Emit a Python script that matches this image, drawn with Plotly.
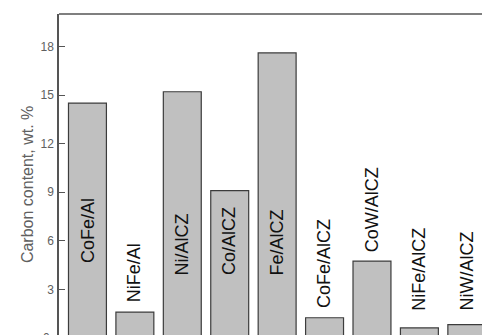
import plotly.graph_objects as go

# Catalyst samples and their carbon content (wt. %)
catalysts = ["CoFe/Al", "NiFe/Al", "Ni/AlCZ", "Co/AlCZ", "Fe/AlCZ",
             "CoFe/AlCZ", "CoW/AlCZ", "NiFe/AlCZ", "NiW/AlCZ"]
carbon = [14.5, 1.6, 15.2, 9.1, 17.6, 1.25, 4.75, 0.62, 0.82]
y_ticks = [3, 6, 9, 12, 15, 18]

# baseline (data units) of each rotated sample label
label_y = [4.5, 2.1, 3.75, 3.75, 3.75, 1.73, 5.2, 1.55, 1.6]

FONT = "Liberation Sans, Arial, sans-serif"
AXIS_GREY = "#555555"
TEXT_GREY = "#606060"

fig = go.Figure(go.Bar(
    x=catalysts,
    y=carbon,
    marker=dict(color="#c0c0c0", line=dict(color="#3c3c3c", width=1.2)),
    width=0.8,
    hoverinfo="x+y",
))

for name, yb in zip(catalysts, label_y):
    fig.add_annotation(
        x=name, y=yb, xref="x", yref="y",
        text=name, textangle=-90, showarrow=False,
        xanchor="center", yanchor="bottom",
        font=dict(family=FONT, size=18, color="#111111"),
    )

# zero label sits just below the visible frame
fig.add_annotation(
    x=0, y=0, xref="paper", yref="paper", yshift=-3,
    text="0", showarrow=False, xanchor="right", yanchor="middle", xshift=-7,
    font=dict(family=FONT, size=12, color=TEXT_GREY),
)

# y-axis title, centred on the full axis height (which runs past the bottom edge)
fig.add_annotation(
    x=0, y=0.467, xref="paper", yref="paper", xshift=-32,
    text="Carbon content, wt. %", textangle=-90, showarrow=False,
    xanchor="center", yanchor="middle",
    font=dict(family=FONT, size=16, color=TEXT_GREY),
)

# top border of the frame
fig.add_shape(type="line", xref="paper", yref="paper", x0=0, x1=1, y0=1, y1=1,
              line=dict(color=AXIS_GREY, width=1.5))

fig.update_layout(
    template="none",
    width=482, height=335,
    margin=dict(l=59, r=0, t=14, b=0),
    plot_bgcolor="white", paper_bgcolor="white",
    showlegend=False,
    font=dict(family=FONT),
    xaxis=dict(
        range=[-0.6, 8.32], showticklabels=False, ticks="",
        showline=False, showgrid=False, zeroline=False,
    ),
    yaxis=dict(
        range=[0.185, 20], tickvals=y_ticks, ticks="inside", ticklen=6,
        tickcolor=AXIS_GREY, tickwidth=1.2,
        showline=True, linecolor=AXIS_GREY, linewidth=1.5,
        showgrid=False, zeroline=False,
        tickfont=dict(family=FONT, size=12, color=TEXT_GREY),
        ticklabelstandoff=1,
    ),
)

fig.write_html("out.html")
